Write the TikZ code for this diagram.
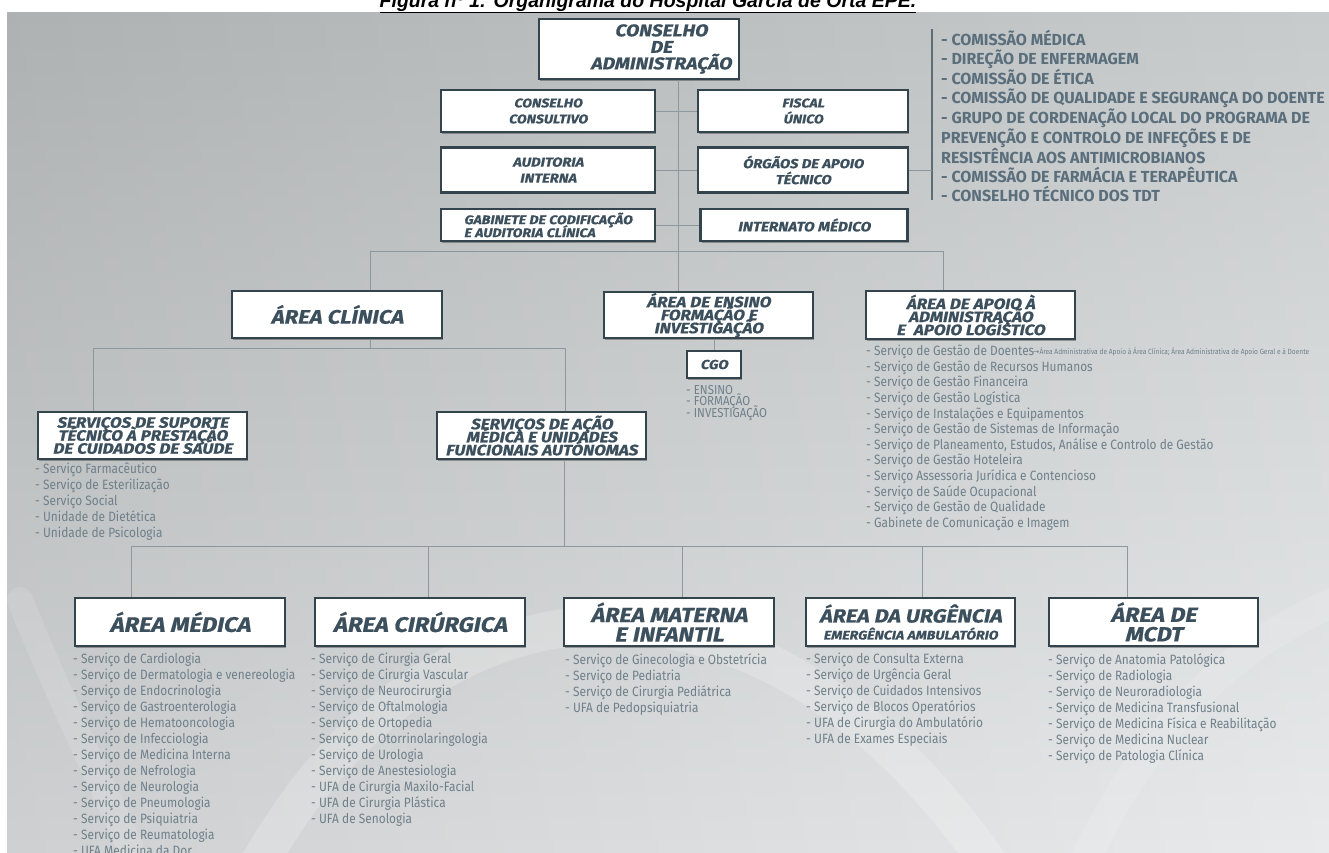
\documentclass[tikz,border=0pt]{standalone}
\usepackage{fontspec}
\setmainfont{Fira Sans}
\newfontfamily\hfont[FakeStretch=1.12, FakeSlant=0.2, FakeBold=0.6]{Fira Sans}
\newfontfamily\lfont[FakeStretch=0.88]{Fira Sans}
\newfontfamily\rfont[FakeStretch=1.0]{Fira Sans}
\newfontfamily\tfont{Liberation Sans}
\newfontfamily\djv{DejaVu Sans}
\usetikzlibrary{shadows}
\definecolor{boxline}{HTML}{34444F}
\definecolor{boxtext}{HTML}{3C4F5D}
\definecolor{linecol}{HTML}{8C979E}
\definecolor{listcol}{HTML}{6F808B}
\definecolor{rlcol}{HTML}{5A6E7C}
\definecolor{barcol}{HTML}{5D6C76}
\definecolor{bgtop}{HTML}{C2C6C7}
\definecolor{bgbot}{HTML}{E6E8E9}
\newcommand\tightls{\lineskiplimit=-100pt\lineskip=0pt\relax}
\newcommand\hdf[2]{\hfont\bfseries\fontsize{#1}{#2}\selectfont\tightls}
\begin{document}
\begin{tikzpicture}[x=1pt,y=-1pt,
  box/.style={draw=boxline, line width=2.3pt, fill=white, inner sep=0pt, align=center, text=boxtext,
    drop shadow={shadow xshift=1pt, shadow yshift=-1.5pt, opacity=0.3, fill=black}},
  conn/.style={draw=linecol, line width=0.9pt},
  lst/.style={anchor=north west, align=left, inner sep=0pt, text=listcol, font=\lfont\fontsize{13.5}{16}\selectfont},
]
\useasboundingbox (0,0) rectangle (1329,852);
\fill[white] (0,0) rectangle (1329,852);
\shade[top color=bgtop, bottom color=bgbot] (7,12) rectangle (1329,852);
\shade[left color=black, right color=white, opacity=0.10] (7,12) rectangle (1329,852);
% faint watermark swooshes
\draw[white, opacity=0.2, line width=38pt, line cap=round] (250,880) .. controls (420,560) and (760,520) .. (1000,880);
\draw[white, opacity=0.12, line width=26pt, line cap=round] (20,600) .. controls (60,700) and (110,800) .. (140,870);
\draw[white, opacity=0.12, line width=30pt, line cap=round] (1080,870) .. controls (1150,720) and (1240,640) .. (1340,600);

% title
\node[anchor=base, inner sep=0pt, font=\tfont\bfseries\itshape\fontsize{19.5}{21}\selectfont] (title) at (648,7)
  {\underline{Figura nº 1: Organigrama do Hospital Garcia de Orta EPE.}};

% top boxes
\node[box, minimum width=200pt, minimum height=60pt, font=\hdf{17}{16.5}] (ca) at (639,49)
  {\hspace*{44pt}CONSELHO\\\hspace*{44pt}DE\\\hspace*{44pt}ADMINISTRAÇÃO};
\node[box, minimum width=214pt, minimum height=42pt, font=\hdf{12.5}{16}] (consultivo) at (548,111) {CONSELHO\\CONSULTIVO};
\node[box, minimum width=210pt, minimum height=42pt, font=\hdf{12.5}{16}] (fiscal) at (803,111) {FISCAL\\ÚNICO};
\node[box, minimum width=214pt, minimum height=45pt, font=\hdf{13}{16}] (auditoria) at (548,170) {AUDITORIA\\INTERNA};
\node[box, minimum width=210pt, minimum height=45pt, font=\hdf{13}{16}] (orgaos) at (803,170) {ÓRGÃOS DE APOIO\\TÉCNICO};
\node[box, minimum width=214pt, minimum height=32pt, font=\hdf{12.5}{13}, align=left] (gabinete) at (548,225) {GABINETE DE CODIFICAÇÃO\\E AUDITORIA CLÍNICA};
\node[box, minimum width=207pt, minimum height=32pt, font=\hdf{13.5}{16}] (internato) at (804,225) {INTERNATO MÉDICO};

% right list
\coordinate (rbt) at (932,29);
\coordinate (rbb) at (932,200);
\draw[barcol, line width=1.4pt] (rbt) -- (rbb);
\node[anchor=north west, align=left, inner sep=0pt, text=rlcol, font=\rfont\bfseries\fontsize{16}{18.8}\selectfont] (rlist) at (941,30)
 {- COMISSÃO MÉDICA\\- DIREÇÃO DE ENFERMAGEM\\- COMISSÃO DE ÉTICA\\- COMISSÃO DE QUALIDADE E SEGURANÇA DO DOENTE\\- GRUPO DE CORDENAÇÃO LOCAL DO PROGRAMA DE\\PREVENÇÃO E CONTROLO DE INFEÇÕES E DE\\RESISTÊNCIA AOS ANTIMICROBIANOS\\- COMISSÃO DE FARMÁCIA E TERAPÊUTICA\\- CONSELHO TÉCNICO DOS TDT};

% level 2 boxes
\node[box, minimum width=210pt, minimum height=47pt, font=\hdf{19.5}{20}] (clinica) at (337,314.5) {ÁREA CLÍNICA};
\node[box, minimum width=209pt, minimum height=46pt, font=\hdf{15}{13}] (ensino) at (708.5,315) {ÁREA DE ENSINO\\FORMAÇÃO E\\INVESTIGAÇÃO};
\node[box, minimum width=209pt, minimum height=48pt, font=\hdf{15}{13}] (apoio) at (970.5,315) {ÁREA DE APOIO À\\ADMINISTRAÇÃO\\E\ \ APOIO LOGÍSTICO};
\node[box, minimum width=54pt, minimum height=27pt, font=\hdf{13}{15}] (cgo) at (714,364.5) {CGO};
\node[anchor=north west, align=left, inner sep=0pt, text=listcol, font=\lfont\fontsize{13}{11.5}\selectfont\tightls] (cgolist) at (686,385) {- ENSINO\\- FORMAÇÃO\\- INVESTIGAÇÃO};

% connectors top
\coordinate (jc) at (678,251);
\coordinate (jl) at (370,251);
\coordinate (jr) at (943,251);
\draw[conn] (ca.south -| jc) -- (ensino.north -| jc);
\draw[conn] (consultivo.east) -- (fiscal.west);
\draw[conn] (auditoria.east) -- (orgaos.west);
\draw[conn] (gabinete.east) -- (internato.west);
\draw[conn] (orgaos.east) -- (orgaos.east -| rbt);
\draw[conn] (jl) -- (jr);
\draw[conn] (jl) -- (clinica.north -| jl);
\draw[conn] (jr) -- (apoio.north -| jr);
\draw[conn] (ensino.south -| cgo) -- (cgo.north);

% apoio list
\node[lst, font=\lfont\fontsize{13.5}{15.6}\selectfont] (apoiolist) at (866,345) {- Serviço de Gestão de Doentes\\- Serviço de Gestão de Recursos Humanos\\- Serviço de Gestão Financeira\\- Serviço de Gestão Logística\\- Serviço de Instalações e Equipamentos\\- Serviço de Gestão de Sistemas de Informação\\- Serviço de Planeamento, Estudos, Análise e Controlo de Gestão\\- Serviço de Gestão Hoteleira\\- Serviço Assessoria Jurídica e Contencioso\\- Serviço de Saúde Ocupacional\\- Serviço de Gestão de Qualidade\\- Gabinete de Comunicação e Imagem};
\node[anchor=west, inner sep=0pt, text=listcol, font=\lfont\fontsize{7.5}{8}\selectfont] (note) at (1033,352) {{\djv →}Área Administrativa de Apoio à Área Clínica; Área Administrativa de Apoio Geral e à Doente};

% level 3
\node[box, minimum width=209pt, minimum height=47pt, font=\hdf{15}{13}] (suporte) at (142.5,435.5) {SERVIÇOS DE SUPORTE\\TÉCNICO À PRESTAÇÃO\\DE CUIDADOS DE SAÚDE};
\node[box, minimum width=209pt, minimum height=47pt, font=\hdf{15}{13}] (acao) at (541.5,435.5) {SERVIÇOS DE AÇÃO\\MÉDICA E UNIDADES\\FUNCIONAIS AUTÓNOMAS};
\coordinate (k) at (370,348);
\coordinate (kl) at (93,348);
\coordinate (kr) at (565,348);
\draw[conn] (clinica.south -| k) -- (k);
\draw[conn] (kl) -- (kr);
\draw[conn] (kl) -- (suporte.north -| kl);
\draw[conn] (kr) -- (acao.north -| kr);
\node[lst] (suplist) at (35,463) {- Serviço Farmacêutico\\- Serviço de Esterilização\\- Serviço Social\\- Unidade de Dietética\\- Unidade de Psicologia};

% level 4
\node[box, minimum width=210pt, minimum height=48pt, font=\hdf{21}{20}] (medica) at (180,622) {ÁREA MÉDICA};
\node[box, minimum width=210pt, minimum height=48pt, font=\hdf{21}{20}] (cirurgica) at (420,622) {ÁREA CIRÚRGICA};
\node[box, minimum width=210pt, minimum height=48pt, font=\hdf{20.5}{19.5}] (materna) at (669,622) {ÁREA MATERNA\\E INFANTIL};
\node[box, minimum width=209pt, minimum height=48pt, font=\hdf{19}{17}] (urgencia) at (910.5,622) {ÁREA DA URGÊNCIA\\{\fontsize{12.5}{13}\selectfont EMERGÊNCIA AMBULATÓRIO}};
\node[box, minimum width=209pt, minimum height=48pt, font=\hdf{20.5}{19.5}] (mcdt) at (1153.5,622) {ÁREA DE\\MCDT};

\coordinate (m) at (564,546);
\coordinate (m1) at (131,546);
\coordinate (m2) at (428,546);
\coordinate (m3) at (682,546);
\coordinate (m4) at (922,546);
\coordinate (m5) at (1127,546);
\draw[conn] (acao.south -| m) -- (m);
\draw[conn] (m1) -- (m5);
\draw[conn] (m1) -- (medica.north -| m1);
\draw[conn] (m2) -- (cirurgica.north -| m2);
\draw[conn] (m3) -- (materna.north -| m3);
\draw[conn] (m4) -- (urgencia.north -| m4);
\draw[conn] (m5) -- (mcdt.north -| m5);

\node[lst] (medlist) at (73,653) {- Serviço de Cardiologia\\- Serviço de Dermatologia e venereologia\\- Serviço de Endocrinologia\\- Serviço de Gastroenterologia\\- Serviço de Hematooncologia\\- Serviço de Infecciologia\\- Serviço de Medicina Interna\\- Serviço de Nefrologia\\- Serviço de Neurologia\\- Serviço de Pneumologia\\- Serviço de Psiquiatria\\- Serviço de Reumatologia\\- UFA Medicina da Dor};
\node[lst] (cirlist) at (311,653) {- Serviço de Cirurgia Geral\\- Serviço de Cirurgia Vascular\\- Serviço de Neurocirurgia\\- Serviço de Oftalmologia\\- Serviço de Ortopedia\\- Serviço de Otorrinolaringologia\\- Serviço de Urologia\\- Serviço de Anestesiologia\\- UFA de Cirurgia Maxilo-Facial\\- UFA de Cirurgia Plástica\\- UFA de Senologia};
\node[lst] (matlist) at (565,653) {- Serviço de Ginecologia e Obstetrícia\\- Serviço de Pediatria\\- Serviço de Cirurgia Pediátrica\\- UFA de Pedopsiquiatria};
\node[lst] (urglist) at (806,653) {- Serviço de Consulta Externa\\- Serviço de Urgência Geral\\- Serviço de Cuidados Intensivos\\- Serviço de Blocos Operatórios\\- UFA de Cirurgia do Ambulatório\\- UFA de Exames Especiais};
\node[lst] (mcdtlist) at (1048,653) {- Serviço de Anatomia Patológica\\- Serviço de Radiologia\\- Serviço de Neuroradiologia\\- Serviço de Medicina Transfusional\\- Serviço de Medicina Física e Reabilitação\\- Serviço de Medicina Nuclear\\- Serviço de Patologia Clínica};
\end{tikzpicture}
\end{document}
